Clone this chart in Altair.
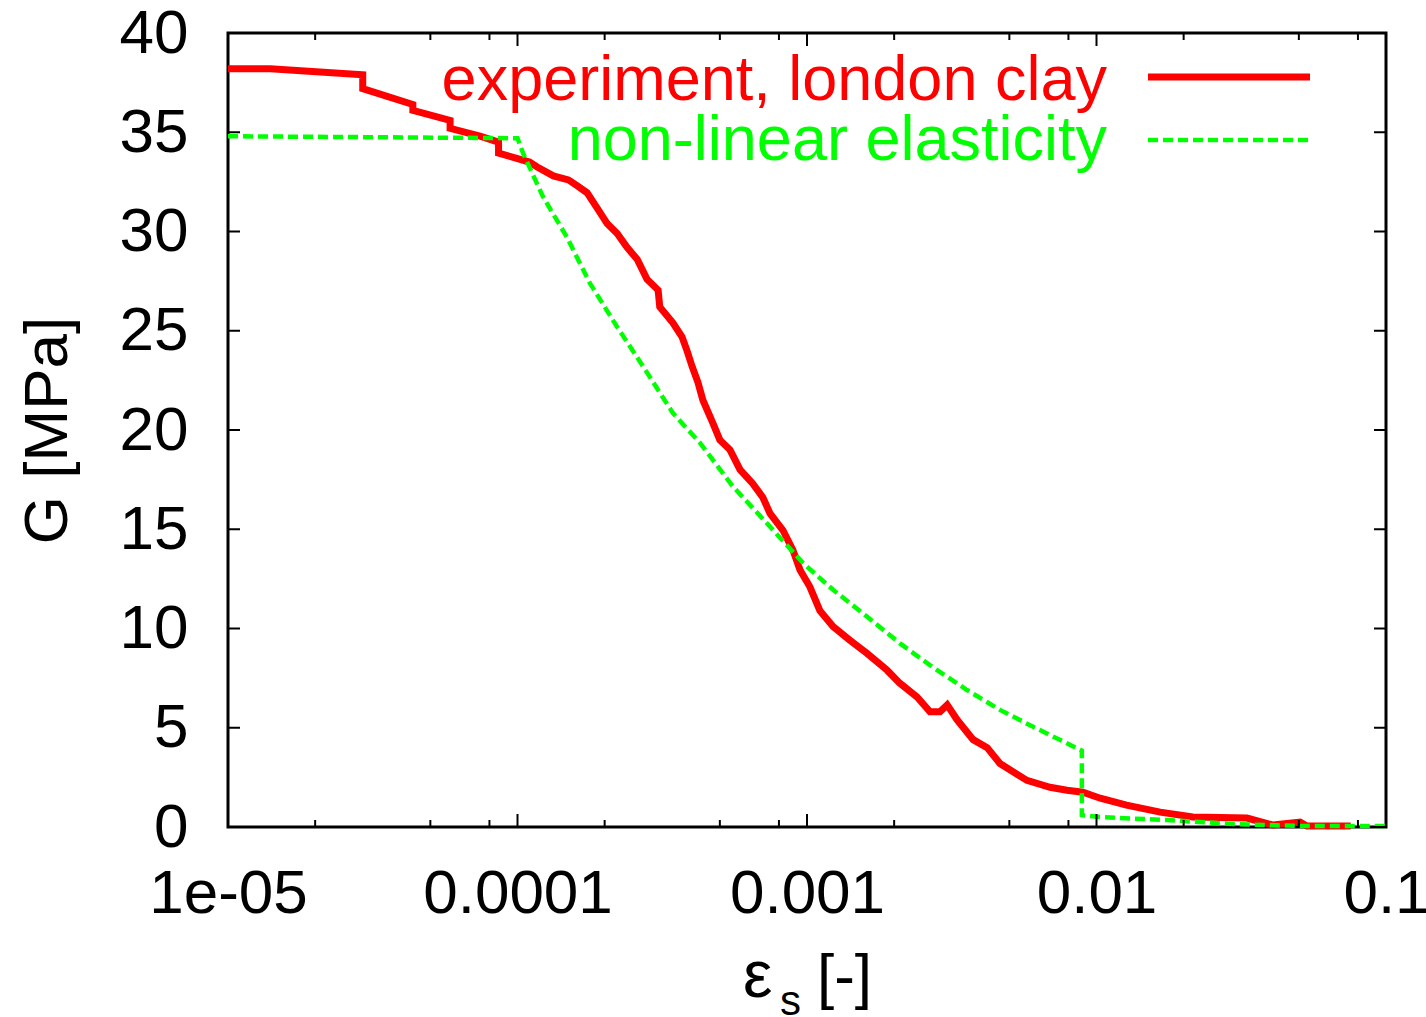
import altair as alt
import pandas as pd

# ---------------- data ----------------
red_eps = [1.0e-5, 1.40e-5, 2.92e-5, 2.92e-5, 4.35e-5, 4.35e-5, 5.85e-5, 5.85e-5, 7.42e-5,
           8.6e-5, 8.6e-5, 1.10e-4, 1.17e-4, 1.33e-4, 1.50e-4, 1.61e-4, 1.74e-4, 1.88e-4,
           2.04e-4, 2.21e-4, 2.39e-4, 2.59e-4, 2.80e-4, 3.06e-4, 3.10e-4, 3.44e-4, 3.70e-4,
           3.85e-4, 4.01e-4, 4.20e-4, 4.37e-4, 4.73e-4, 5.00e-4, 5.42e-4, 5.87e-4, 6.50e-4,
           7.04e-4, 7.45e-4, 8.26e-4, 8.94e-4, 9.46e-4, 1.023e-3, 1.108e-3, 1.23e-3, 1.41e-3,
           1.61e-3, 1.89e-3, 2.09e-3, 2.40e-3, 2.66e-3, 2.88e-3, 3.05e-3, 3.30e-3, 3.75e-3,
           4.19e-3, 4.64e-3, 5.75e-3, 6.91e-3, 7.91e-3, 8.98e-3, 1.03e-2, 1.27e-2, 1.66e-2,
           2.15e-2, 3.31e-2, 4.07e-2, 5.05e-2, 5.33e-2, 7.55e-2]
red_G = [38.2, 38.2, 37.9, 37.2, 36.4, 36.1, 35.6, 35.2, 34.8,
         34.5, 33.95, 33.5, 33.25, 32.8, 32.6, 32.3, 31.95, 31.2,
         30.4, 29.9, 29.2, 28.6, 27.6, 27.05, 26.2, 25.4, 24.7,
         24.0, 23.2, 22.4, 21.5, 20.35, 19.5, 19.0, 18.0, 17.3,
         16.6, 15.8, 14.95, 13.95, 12.95, 12.1, 10.9, 10.1, 9.4,
         8.75, 7.9, 7.25, 6.55, 5.8, 5.8, 6.15, 5.4, 4.4,
         4.0, 3.2, 2.35, 2.0, 1.85, 1.75, 1.45, 1.1, 0.75,
         0.5, 0.45, 0.1, 0.25, 0.05, 0.05]

green_eps = [1e-5, 1e-4, 1.045e-4, 1.225e-4, 1.483e-4, 1.778e-4, 2.207e-4, 2.716e-4, 3.443e-4,
             4.27e-4, 5.55e-4, 7.27e-4, 9.69e-4, 1.23e-3, 1.611e-3, 2.094e-3, 2.72e-3, 3.57e-3,
             4.64e-3, 6.04e-3, 8.9e-3, 8.9e-3, 1.028e-2, 1.75e-2, 2.97e-2, 5.05e-2, 0.1]
green_G = [34.8, 34.7, 33.95, 31.75, 29.7, 27.4, 25.2, 23.2, 20.85,
           19.35, 17.15, 15.3, 13.3, 11.95, 10.6, 9.25, 8.05, 6.9,
           5.9, 5.05, 3.85, 0.6, 0.5, 0.35, 0.15, 0.05, 0.05]

series_names = ["experiment, london clay", "non-linear elasticity"]
x_major = [1e-5, 1e-4, 1e-3, 1e-2, 1e-1]
x_major_labels = ["1e-05", "0.0001", "0.001", "0.01", "0.1"]
x_minor = [2e-5, 5e-5, 8e-5, 2e-4, 5e-4, 8e-4, 2e-3, 5e-3, 8e-3, 2e-2, 5e-2, 8e-2]
y_major = [0, 5, 10, 15, 20, 25, 30, 35, 40]
y_title = "G [MPa]"

assert len(red_eps) == len(red_G) and len(green_eps) == len(green_G)

# ---------------- layout / style ----------------
W, H = 1158, 794
FONT = "Liberation Sans"
FS = 62
RED = "#ff0000"
GREEN = "#00ff00"
RED_W = 7
GREEN_W = 4.5
GREEN_DASH = [10, 5]

red_df = pd.DataFrame({"eps": red_eps, "G": red_G, "i": range(len(red_eps))})
green_df = pd.DataFrame({"eps": green_eps, "G": green_G, "i": range(len(green_eps))})
xmaj_df = pd.DataFrame({"eps": x_major})
xmin_df = pd.DataFrame({"eps": x_minor})
ymaj_df = pd.DataFrame({"G": y_major})

label_expr = ""
for v, lab in zip(x_major[:-1], x_major_labels[:-1]):
    label_expr += f"datum.value < {v * 3:g} ? '{lab}' : "
label_expr += f"'{x_major_labels[-1]}'"

xscale = alt.Scale(type="log", domain=[1e-5, 0.1], nice=False)
yscale = alt.Scale(domain=[0, 40], nice=False, zero=False)

xaxis = alt.Axis(values=x_major, labelExpr=label_expr, ticks=False, tickSize=0,
                 domain=False, grid=False, labelFont=FONT, labelFontSize=FS,
                 labelColor="black", labelPadding=85, labelBaseline="alphabetic",
                 labelFlush=False, labelOverlap=False, labelBound=False, labelLimit=1000,
                 title=None)
yaxis = alt.Axis(values=y_major, ticks=False, tickSize=0, domain=False, grid=False,
                 labelFont=FONT, labelFontSize=FS, labelColor="black", labelPadding=40,
                 labelFlush=False, labelOverlap=False, labelBound=False, labelLimit=1000,
                 title=y_title, titleFont=FONT, titleFontSize=FS, titleFontWeight="normal",
                 titleColor="black", titleAngle=270, titleAlign="center",
                 titleBaseline="middle", titleX=-181, titleY=397, titleLimit=2000)

X = alt.X("eps:Q", scale=xscale, axis=xaxis)
Y = alt.Y("G:Q", scale=yscale, axis=yaxis)

red_line = alt.Chart(red_df).mark_line(color=RED, strokeWidth=RED_W).encode(
    x=X, y=Y, order="i:Q")
green_line = alt.Chart(green_df).mark_line(color=GREEN, strokeWidth=GREEN_W,
                                           strokeDash=GREEN_DASH).encode(
    x=X, y=Y, order="i:Q")

tick_style = dict(color="black", strokeWidth=2)
bot_major = alt.Chart(xmaj_df).mark_rule(**tick_style).encode(x=X, y=alt.value(H), y2=alt.value(H - 13))
top_major = alt.Chart(xmaj_df).mark_rule(**tick_style).encode(x=X, y=alt.value(0), y2=alt.value(13))
bot_minor = alt.Chart(xmin_df).mark_rule(**tick_style).encode(x=X, y=alt.value(H), y2=alt.value(H - 7))
top_minor = alt.Chart(xmin_df).mark_rule(**tick_style).encode(x=X, y=alt.value(0), y2=alt.value(7))
left_ticks = alt.Chart(ymaj_df).mark_rule(**tick_style).encode(y=Y, x=alt.value(0), x2=alt.value(12))
right_ticks = alt.Chart(ymaj_df).mark_rule(**tick_style).encode(y=Y, x=alt.value(W), x2=alt.value(W - 12))

one = pd.DataFrame({"a": [0]})

# legend (inside, top right, text right-aligned before the sample line)
leg_red_txt = alt.Chart(one).mark_text(text=series_names[0], font=FONT, fontSize=63, color=RED,
                                       align="right", baseline="alphabetic").encode(
    x=alt.value(879), y=alt.value(67))
leg_green_txt = alt.Chart(one).mark_text(text=series_names[1], font=FONT, fontSize=63, color=GREEN,
                                         align="right", baseline="alphabetic").encode(
    x=alt.value(879), y=alt.value(127))
leg_red_line = alt.Chart(one).mark_rule(color=RED, strokeWidth=RED_W).encode(
    x=alt.value(920), x2=alt.value(1082), y=alt.value(44))
leg_green_line = alt.Chart(one).mark_rule(color=GREEN, strokeWidth=GREEN_W,
                                          strokeDash=GREEN_DASH).encode(
    x=alt.value(920), x2=alt.value(1082), y=alt.value(107))

# x-axis title: epsilon with subscript s
xt_eps = alt.Chart(one).mark_text(text="ε", font=FONT, fontSize=66, color="black",
                                  align="left", baseline="alphabetic").encode(
    x=alt.value(515), y=alt.value(964))
xt_sub = alt.Chart(one).mark_text(text="s", font=FONT, fontSize=42, color="black",
                                  align="left", baseline="alphabetic").encode(
    x=alt.value(552), y=alt.value(982))
xt_rest = alt.Chart(one).mark_text(text="[-]", font=FONT, fontSize=FS, color="black",
                                   align="left", baseline="alphabetic").encode(
    x=alt.value(589), y=alt.value(964))

chart = alt.layer(
    red_line, green_line,
    bot_major, top_major, bot_minor, top_minor, left_ticks, right_ticks,
    leg_red_txt, leg_green_txt, leg_red_line, leg_green_line,
    xt_eps, xt_sub, xt_rest,
).properties(
    width=W, height=H,
    autosize=alt.AutoSizeParams(type="none"),
    padding={"left": 228, "top": 33, "right": 40, "bottom": 190},
    background="white",
).configure_view(stroke="black", strokeWidth=3)

chart.save("out.html", embed_options={"renderer": "svg", "actions": False})
